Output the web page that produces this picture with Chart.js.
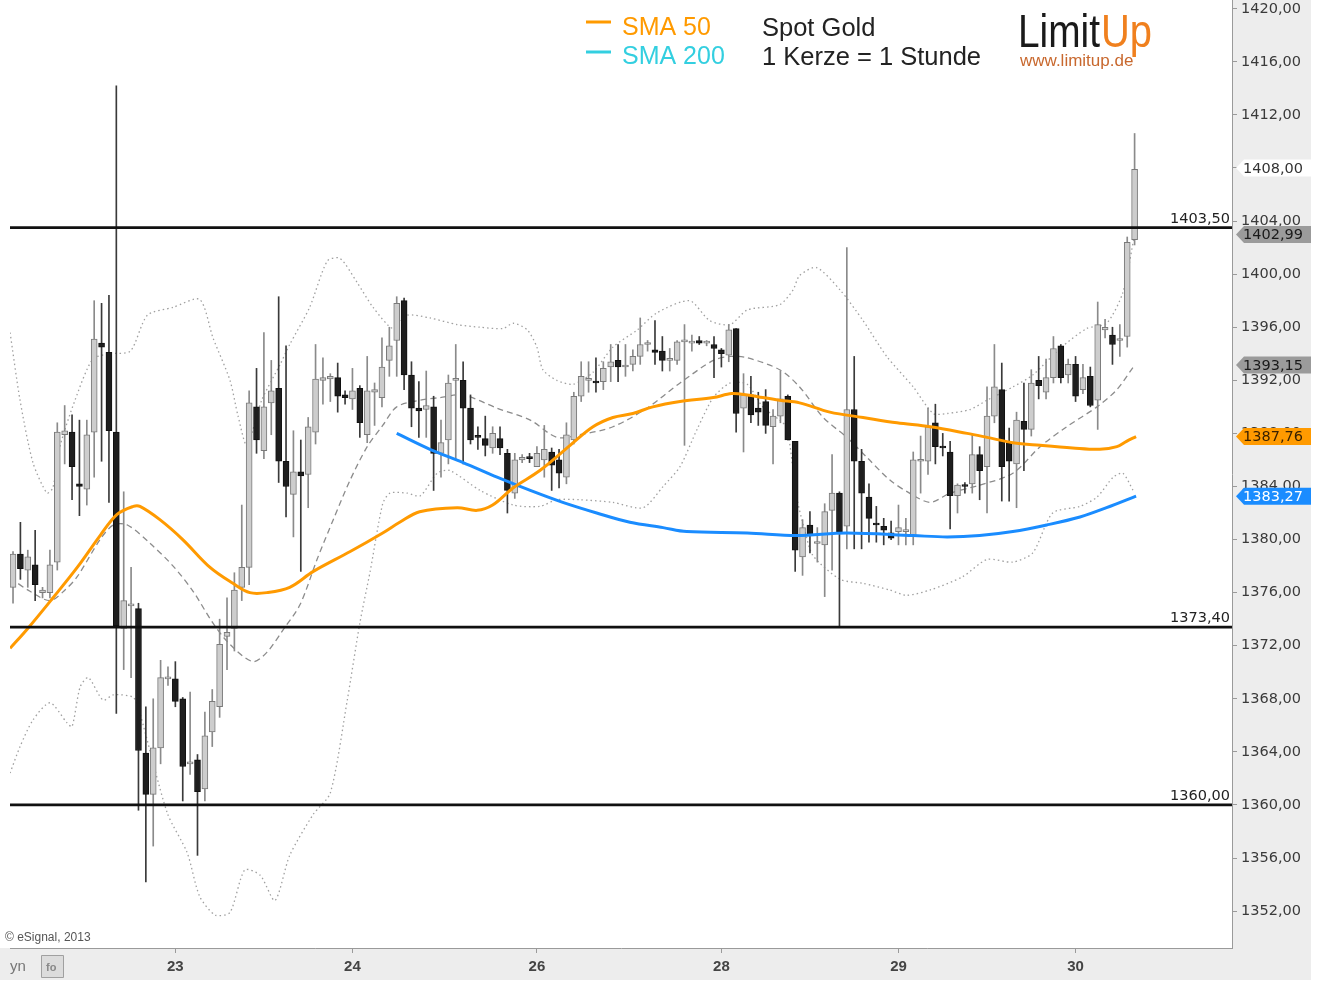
<!DOCTYPE html>
<html><head><meta charset="utf-8">
<script src="https://cdn.jsdelivr.net/npm/chart.js@4.4.1/dist/chart.umd.min.js"></script>
<style>html,body{margin:0;padding:0;background:#fff;}canvas{display:block;}</style>
</head><body>
<canvas id="c" width="1319" height="983"></canvas>
<script>
// ---- data (1 candle = 1 hour) ----
const openP = [1376.4,1378.9,1377.7,1378.1,1376.0,1376.0,1378.3,1387.9,1388.1,1384.2,
 1383.8,1388.1,1394.8,1394.1,1388.1,1373.3,1375.0,1374.8,1363.9,1360.8,
 1364.3,1369.5,1369.5,1368.0,1363.1,1363.4,1361.2,1365.5,1367.4,1372.7,
 1373.3,1376.4,1377.9,1390.0,1386.7,1390.3,1391.4,1385.9,1383.4,1385.1,
 1384.9,1388.1,1392.0,1392.1,1392.2,1390.9,1390.6,1391.4,1387.9,1391.1,
 1390.7,1393.5,1395.0,1398.0,1392.4,1389.9,1389.8,1390.0,1386.5,1387.5,
 1392.0,1392.0,1389.9,1387.8,1387.6,1386.9,1387.6,1386.5,1383.5,1386.0,
 1386.2,1385.5,1386.0,1386.6,1386.0,1384.7,1387.5,1390.8,1392.0,1391.9,
 1391.9,1393.0,1393.5,1393.0,1393.2,1393.8,1394.7,1394.3,1394.2,1393.5,
 1393.5,1394.9,1394.8,1395.0,1394.8,1394.7,1394.3,1393.9,1395.9,1389.9,
 1390.9,1389.9,1390.4,1388.5,1389.3,1390.8,1387.4,1378.7,1381.1,1379.7,
 1379.6,1382.2,1383.5,1381.0,1389.8,1385.9,1383.2,1381.2,1381.0,1380.5,
 1380.6,1380.6,1380.3,1385.9,1385.9,1388.8,1386.95,1386.6,1383.3,1384.1,
 1384.2,1386.4,1385.5,1389.3,1391.3,1387.3,1385.7,1388.9,1388.3,1392.0,
 1391.1,1392.2,1394.6,1392.4,1393.2,1391.3,1392.3,1390.5,1395.8,1395.4,
 1395.0,1395.3,1402.6];
const highP = [1379.1,1381.3,1379.2,1380.7,1376.4,1379.2,1388.8,1390.1,1389.4,1389.0,
 1389.0,1398.0,1397.8,1398.4,1414.2,1383.6,1377.9,1375.2,1367.4,1368.0,
 1370.9,1370.4,1370.8,1368.1,1368.5,1363.8,1367.0,1368.7,1374.0,1375.6,
 1377.5,1382.6,1391.2,1392.9,1395.6,1393.5,1398.3,1394.6,1388.2,1387.5,
 1389.2,1394.7,1393.7,1392.5,1393.3,1391.2,1392.9,1391.6,1393.8,1391.8,
 1395.2,1396.0,1398.3,1398.2,1393.4,1391.9,1392.7,1390.8,1389.0,1392.4,
 1394.7,1393.4,1390.9,1388.5,1389.3,1388.5,1388.5,1386.8,1386.5,1386.4,
 1386.5,1387.0,1388.6,1386.9,1386.8,1388.8,1391.1,1393.4,1393.4,1393.7,
 1393.4,1394.7,1394.7,1394.7,1394.3,1396.7,1395.0,1396.5,1395.3,1394.4,
 1395.0,1396.2,1395.4,1395.3,1395.0,1395.3,1394.4,1396.2,1395.9,1392.5,
 1392.3,1391.1,1391.3,1389.8,1392.7,1390.9,1387.4,1381.5,1382.1,1380.9,
 1382.7,1386.4,1383.6,1402.0,1393.8,1386.8,1384.2,1382.5,1381.6,1381.4,
 1382.6,1381.6,1386.6,1387.8,1389.9,1390.2,1388.0,1387.4,1384.2,1384.3,
 1388.0,1387.0,1391.5,1394.7,1393.3,1388.4,1389.6,1391.8,1392.8,1393.8,
 1393.6,1395.3,1394.7,1393.6,1393.8,1393.2,1393.0,1397.9,1396.6,1396.0,
 1396.2,1402.8,1410.6];
const lowP = [1375.2,1377.0,1376.4,1375.4,1375.6,1375.6,1377.7,1385.7,1383.0,1381.8,
 1382.6,1384.7,1385.9,1382.8,1366.9,1370.2,1369.6,1359.6,1354.2,1356.9,
 1363.1,1369.0,1367.4,1360.3,1362.3,1356.2,1360.3,1364.4,1366.6,1370.2,
 1371.6,1375.4,1376.6,1386.5,1386.1,1387.9,1384.3,1381.7,1380.2,1377.6,
 1382.4,1387.2,1390.2,1390.4,1389.6,1390.2,1389.8,1387.7,1387.3,1388.6,
 1390.0,1392.3,1392.3,1391.3,1388.5,1387.7,1387.7,1383.7,1384.7,1385.7,
 1386.0,1385.7,1387.2,1386.8,1386.3,1386.5,1386.4,1382.0,1383.1,1385.8,
 1385.8,1385.5,1384.7,1383.7,1383.9,1384.2,1387.2,1390.4,1391.1,1391.1,
 1391.3,1391.9,1391.9,1392.3,1392.7,1393.2,1394.2,1393.2,1392.7,1392.7,
 1393.2,1387.1,1394.2,1394.7,1394.6,1392.2,1393.0,1393.4,1388.1,1386.6,
 1388.8,1388.6,1388.0,1385.7,1388.8,1387.5,1377.6,1377.3,1379.0,1378.3,
 1375.7,1377.7,1373.4,1379.3,1379.3,1379.3,1379.8,1379.8,1379.6,1380.0,
 1379.6,1379.6,1379.6,1383.5,1384.9,1385.7,1386.3,1380.8,1382.0,1383.5,
 1383.5,1383.0,1382.0,1388.8,1382.9,1382.9,1382.4,1385.2,1387.8,1390.6,
 1390.6,1391.8,1391.8,1391.8,1390.4,1391.0,1390.0,1388.3,1395.2,1393.2,
 1393.8,1394.5,1402.2];
const closeP = [1378.9,1377.8,1378.7,1376.6,1376.2,1378.1,1388.1,1388.2,1385.5,1384.0,
 1387.9,1395.1,1394.5,1388.2,1373.5,1375.4,1375.1,1364.1,1360.8,1364.3,
 1369.6,1369.6,1367.8,1362.9,1363.2,1361.0,1365.2,1367.8,1372.1,1373.0,
 1376.2,1377.9,1390.3,1387.5,1390.0,1391.2,1385.9,1384.0,1385.1,1384.8,
 1388.5,1392.1,1392.2,1392.3,1390.8,1390.7,1391.2,1388.8,1391.2,1391.3,
 1393.0,1394.6,1397.8,1392.4,1389.9,1389.7,1390.1,1386.5,1387.3,1391.8,
 1392.1,1389.9,1387.5,1387.7,1387.1,1388.0,1386.9,1383.7,1386.0,1386.2,
 1386.1,1386.5,1386.8,1385.6,1385.0,1387.9,1390.8,1392.3,1392.1,1391.8,
 1392.9,1393.4,1393.0,1393.05,1393.8,1394.7,1394.75,1394.1,1393.5,1393.55,
 1394.9,1395.0,1394.85,1394.8,1394.85,1394.4,1394.0,1395.8,1389.5,1390.9,
 1389.4,1389.6,1388.6,1389.3,1390.6,1387.5,1379.2,1380.9,1380.3,1379.8,
 1382.1,1383.5,1380.6,1389.8,1385.9,1383.5,1381.6,1381.1,1380.7,1380.1,
 1380.9,1380.7,1386.0,1386.0,1388.5,1387.0,1386.9,1383.3,1384.1,1384.0,
 1386.4,1385.2,1389.3,1391.5,1385.5,1385.9,1389.0,1388.3,1391.8,1391.6,
 1392.2,1394.4,1392.2,1393.2,1390.8,1392.2,1390.1,1396.2,1396.0,1394.7,
 1395.1,1402.4,1407.9];

// SMA 50 (orange), read at candle positions
const sma50Idx = [-0.4,2.0,5.4,8.7,11.8,14.1,16.3,17.2,19.9,23.0,26.7,29.8,32.1,34.4,37.5,40.7,45.7,50.1,52.4,55.1,60.2,62.9,65.0,67.8,71.4,75.5,78.6,81.3,84.0,86.7,90.4,94.9,97.4,99.5,101.6,103.9,106.6,110.7,115.2,119.8,124.3,129.3,132.0,135.5,139.2,143.6,147.3,149.6,150.9,152.2];
const sma50Val = [1371.8,1373.3,1375.6,1377.9,1380.3,1381.9,1382.5,1382.5,1381.5,1380.0,1377.9,1376.7,1376.0,1376.0,1376.4,1377.6,1379.1,1380.5,1381.3,1382.1,1382.4,1382.2,1382.6,1383.9,1385.2,1387.1,1388.5,1389.2,1389.5,1390.0,1390.4,1390.7,1391.0,1390.9,1390.7,1390.5,1390.3,1389.6,1389.2,1388.8,1388.5,1388.0,1387.7,1387.3,1387.1,1386.9,1386.8,1387.0,1387.4,1387.76];
// SMA 200 (blue)
const sma200Idx = [52.0,56.5,61.0,65.6,70.1,74.5,79.1,83.6,88.1,91.3,99.5,106.2,113.0,122.0,126.6,131.0,135.5,140.1,144.6,148.2,152.2];
const sma200Val = [1388.0,1386.8,1385.8,1384.7,1383.7,1382.8,1382.0,1381.3,1380.9,1380.6,1380.5,1380.3,1380.5,1380.3,1380.2,1380.3,1380.6,1381.1,1381.7,1382.4,1383.27];
// Bollinger bands
const bbUpIdx = [-0.4,0.95,2.7,4.6,5.4,6.4,8.4,10.8,13.1,15.9,18.2,21.7,25.3,27.1,29.4,30.5,31.7,33.7,36.2,37.5,40.2,42.6,44.3,46.6,48.8,51.5,53.4,56.5,60.2,63.3,66.4,67.8,69.7,71.0,71.8,73.7,75.9,78.6,81.3,84.6,87.3,91.7,94.4,97.2,99.5,103.9,105.7,106.6,108.9,112.1,115.2,118.4,122.0,124.7,126.6,129.7,132.0,135.5,138.2,141.9,145.5,148.2,150.4,152.0];
const bbUpVal = [1395.6,1390.5,1385.8,1383.5,1383.9,1387.1,1390.5,1393.6,1394.0,1394.2,1396.9,1397.5,1398.1,1395.2,1392.0,1389.3,1387.1,1390.5,1393.2,1394.7,1397.5,1401.0,1401.2,1399.4,1397.5,1395.9,1396.9,1396.7,1396.2,1396.0,1395.9,1396.3,1395.8,1394.5,1392.8,1392.0,1391.7,1392.6,1394.5,1395.8,1397.1,1398.0,1396.5,1396.2,1397.3,1397.7,1398.8,1399.9,1400.5,1398.8,1396.5,1393.8,1391.5,1389.5,1389.5,1389.8,1390.5,1391.5,1392.4,1394.4,1395.9,1396.3,1398.6,1402.99];
const bbMidIdx = [-0.4,2.3,5.0,7.05,8.7,11.8,13.6,15.5,18.6,21.7,24.4,27.1,29.4,32.5,34.4,36.6,38.9,41.2,43.4,45.7,48.0,50.1,52.0,55.2,57.9,61.0,65.6,70.1,73.7,76.8,81.3,85.9,90.4,94.9,97.2,99.5,103.9,106.6,109.8,113.0,115.7,118.8,121.5,124.3,127.0,131.0,135.5,139.2,142.8,146.9,149.6,152.0];
const bbMidVal = [1377.1,1376.1,1375.4,1376.2,1377.2,1380.0,1381.1,1381.1,1379.7,1378.0,1376.1,1373.7,1372.1,1370.8,1371.5,1373.2,1375.1,1378.5,1381.5,1384.5,1387.0,1388.6,1390.0,1390.5,1390.7,1390.9,1389.9,1389.0,1387.7,1387.9,1388.5,1389.9,1391.8,1393.5,1393.8,1393.7,1392.8,1391.5,1389.2,1387.7,1386.2,1384.5,1383.5,1382.8,1383.5,1384.1,1385.0,1387.0,1388.5,1390.0,1391.3,1393.15];
const bbLowIdx = [-0.4,0.95,2.7,5.0,7.3,8.0,9.1,10.2,12.2,13.6,16.3,17.2,20.9,23.6,25.3,27.4,29.4,31.4,33.5,35.5,37.5,40.7,43.0,45.3,47.0,48.4,50.1,51.1,53.4,55.2,57.5,59.2,63.3,67.8,71.4,73.7,76.8,81.3,85.4,88.1,90.4,92.7,94.9,97.2,99.5,101.6,103.9,104.9,106.2,107.3,108.4,112.1,115.2,118.8,121.1,124.3,128.7,132.0,135.5,138.2,140.9,144.6,146.9,149.1,150.4,151.8];
const bbLowVal = [1362.4,1364.4,1366.4,1367.7,1366.2,1365.9,1368.9,1369.6,1367.9,1368.3,1368.1,1366.9,1359.4,1356.4,1353.1,1351.7,1351.9,1355.1,1354.7,1352.8,1356.2,1359.3,1360.9,1367.9,1373.7,1377.6,1382.7,1383.5,1383.5,1383.3,1385.0,1385.2,1383.7,1382.6,1382.5,1383.0,1383.0,1382.8,1382.4,1384.0,1385.5,1388.3,1390.7,1391.8,1391.7,1390.0,1389.0,1388.4,1383.2,1380.7,1378.8,1377.0,1376.7,1376.2,1375.8,1376.2,1377.2,1378.5,1378.3,1379.0,1382.0,1382.5,1383.2,1384.7,1385.0,1383.7];

const levels = [1403.50, 1373.40, 1360.00];
const tagValues = [1408.00, 1402.99, 1393.15, 1387.76, 1383.27];
const yTicks = [1352,1356,1360,1364,1368,1372,1376,1380,1384,1388,1392,1396,1400,1404,1408,1412,1416,1420];
const dayTickIdx = [22, 46, 71, 96, 120, 144];
const dayLabels = ['23', '24', '26', '28', '29', '30'];

// ---- styles ----
const tagFill = ['#ffffff', '#9b9b9b', '#9b9b9b', '#ff9a00', '#1a8cff'];
const tagInk  = ['#333333', '#1a1a1a', '#1a1a1a', '#3a2200', '#ffffff'];
const X_MIN = -0.41, X_MAX = 165.2, Y_MIN = 1349.22, Y_MAX = 1420.66;
const fmt = v => Number(v).toFixed(2).replace('.', ',');
const pts = (xs, ys) => xs.map((x, i) => ({x: x, y: ys[i]}));
const up = i => closeP[i] >= openP[i];

const wickData = openP.map((_, i) => ({x: i, y: [lowP[i], highP[i]]}));
const bodyData = openP.map((o, i) => ({x: i, y: [o, closeP[i]]}));

const datasets = [
  {type:'line', data: pts(bbUpIdx, bbUpVal), borderColor:'#a0a0a0', borderWidth:1.3, borderDash:[1.5,3], pointRadius:0, tension:0.25, order:9},
  {type:'line', data: pts(bbLowIdx, bbLowVal), borderColor:'#a0a0a0', borderWidth:1.3, borderDash:[1.5,3], pointRadius:0, tension:0.25, order:9},
  {type:'line', data: pts(bbMidIdx, bbMidVal), borderColor:'#8c8c8c', borderWidth:1.3, borderDash:[6,4], pointRadius:0, tension:0.3, order:8},
  {type:'bar', data: wickData, grouped:false, barThickness:1, borderWidth:0,
   backgroundColor: c => up(c.dataIndex) ? '#8a8a8a' : '#3a3a3a', order:6},
  {type:'bar', data: bodyData, grouped:false, barThickness:6, borderWidth:1, borderSkipped:false, minBarLength:2,
   backgroundColor: c => up(c.dataIndex) ? '#cdcdcd' : '#1e1e1e',
   borderColor: c => up(c.dataIndex) ? '#7a7a7a' : '#111111', order:5},
  {type:'line', data: pts(sma200Idx, sma200Val), borderColor:'#1a8cff', borderWidth:3, pointRadius:0, tension:0.35, order:3},
  {type:'line', data: pts(sma50Idx, sma50Val), borderColor:'#ff9a00', borderWidth:3, pointRadius:0, tension:0.35, order:2}
];
levels.forEach(L => datasets.push({type:'line', data:[{x:X_MIN,y:L},{x:X_MAX,y:L}], borderColor:'#111', borderWidth:2.8, pointRadius:0, order:1}));

const decor = {
  id: 'decor',
  beforeDraw(chart) {
    const ctx = chart.ctx, a = chart.chartArea;
    ctx.save();
    ctx.fillStyle = '#ffffff';
    ctx.fillRect(0, 0, chart.width, chart.height);
    ctx.fillStyle = '#ededed';
    ctx.fillRect(a.right, 0, 79, a.bottom + 32);
    ctx.fillRect(0, a.bottom, a.right + 79, 32);
    ctx.restore();
  },
  afterDraw(chart) {
    const ctx = chart.ctx, a = chart.chartArea, ys = chart.scales.y;
    ctx.save();
    // level labels
    ctx.font = '14.5px "DejaVu Sans", sans-serif';
    ctx.fillStyle = '#222';
    ctx.textAlign = 'right';
    ctx.textBaseline = 'alphabetic';
    levels.forEach(L => ctx.fillText(fmt(L), a.right - 2, ys.getPixelForValue(L) - 5));
    // price tags on the axis
    ctx.textAlign = 'left';
    ctx.textBaseline = 'middle';
    tagValues.forEach((v, k) => {
      const yc = ys.getPixelForValue(v);
      ctx.beginPath();
      ctx.moveTo(a.right + 4, yc);
      ctx.lineTo(a.right + 12, yc - 8.5);
      ctx.lineTo(a.right + 79, yc - 8.5);
      ctx.lineTo(a.right + 79, yc + 8.5);
      ctx.lineTo(a.right + 12, yc + 8.5);
      ctx.closePath();
      ctx.fillStyle = tagFill[k];
      ctx.fill();
      ctx.fillStyle = tagInk[k];
      ctx.fillText(fmt(v), a.right + 11, yc + 1);
    });
    // legend
    ctx.lineWidth = 3;
    ctx.strokeStyle = '#ff9a00';
    ctx.beginPath(); ctx.moveTo(586, 22); ctx.lineTo(611, 22); ctx.stroke();
    ctx.strokeStyle = '#33cfe0';
    ctx.beginPath(); ctx.moveTo(586, 52); ctx.lineTo(611, 52); ctx.stroke();
    ctx.textBaseline = 'alphabetic';
    ctx.font = '25px "Liberation Sans", Arial, sans-serif';
    ctx.fillStyle = '#ff9a00'; ctx.fillText('SMA 50', 622, 35);
    ctx.fillStyle = '#33cfe0'; ctx.fillText('SMA 200', 622, 64);
    ctx.fillStyle = '#222';
    ctx.font = '25.5px "Liberation Sans", Arial, sans-serif';
    ctx.fillText('Spot Gold', 762, 36);
    ctx.fillText('1 Kerze = 1 Stunde', 762, 65);
    // logo
    ctx.font = '46px "Liberation Sans Narrow", "Liberation Sans", sans-serif';
    ctx.fillStyle = '#1a1a1a'; ctx.fillText('Limit', 1018, 47, 82);
    ctx.fillStyle = '#f0801e'; ctx.fillText('Up', 1101, 47, 51);
    ctx.font = '17px "Liberation Sans", sans-serif';
    ctx.fillStyle = '#c8682e'; ctx.fillText('www.limitup.de', 1020, 66, 130);
    // footer
    ctx.font = '12px "Liberation Sans", sans-serif';
    ctx.fillStyle = '#555';
    ctx.fillText('\u00a9 eSignal, 2013', 5, 941);
    ctx.font = '15px "Liberation Sans", sans-serif';
    ctx.fillStyle = '#777';
    ctx.fillText('yn', 10, 971);
    ctx.fillStyle = '#dcdcdc'; ctx.strokeStyle = '#a0a0a0'; ctx.lineWidth = 1;
    ctx.beginPath(); ctx.rect(41.5, 955.5, 22, 22); ctx.fill(); ctx.stroke();
    ctx.font = 'bold 11px "Liberation Sans", sans-serif';
    ctx.fillStyle = '#888'; ctx.fillText('fo', 46, 971);
    ctx.restore();
  }
};

new Chart(document.getElementById('c'), {
  type: 'bar',
  data: { datasets },
  options: {
    responsive: false,
    animation: false,
    devicePixelRatio: 1,
    layout: { padding: { left: 10, top: 0, right: 8, bottom: 3 } },
    plugins: { legend: { display: false }, tooltip: { enabled: false } },
    scales: {
      x: {
        type: 'linear', min: X_MIN, max: X_MAX, offset: false,
        grid: { display: true, drawOnChartArea: false, drawTicks: true, tickLength: 5, color: '#9a9a9a', offset: false },
        border: { display: true, color: '#9a9a9a' },
        ticks: { autoSkip: false, maxRotation: 0, padding: 5, color: '#444',
          font: { family: '"Liberation Sans Narrow", "Liberation Sans", sans-serif', size: 15, weight: 'bold' },
          callback: (v, i) => dayLabels[i] || '' },
        afterBuildTicks: s => { s.ticks = dayTickIdx.map(v => ({ value: v })); },
        afterFit: s => { s.height = 32; s.paddingLeft = 0; s.paddingRight = 0; }
      },
      y: {
        type: 'linear', position: 'right', min: Y_MIN, max: Y_MAX,
        grid: { display: true, drawOnChartArea: false, drawTicks: true, tickLength: 5, color: '#9a9a9a' },
        border: { display: true, color: '#9a9a9a' },
        ticks: { padding: 4, color: '#3a3a3a', font: { family: '"DejaVu Sans", sans-serif', size: 14.5 },
          callback: v => fmt(v) },
        afterBuildTicks: s => { s.ticks = yTicks.map(v => ({ value: v })); },
        afterFit: s => { s.width = 79; s.paddingTop = 0; s.paddingBottom = 0; }
      }
    }
  },
  plugins: [decor]
});
</script>
</body></html>
